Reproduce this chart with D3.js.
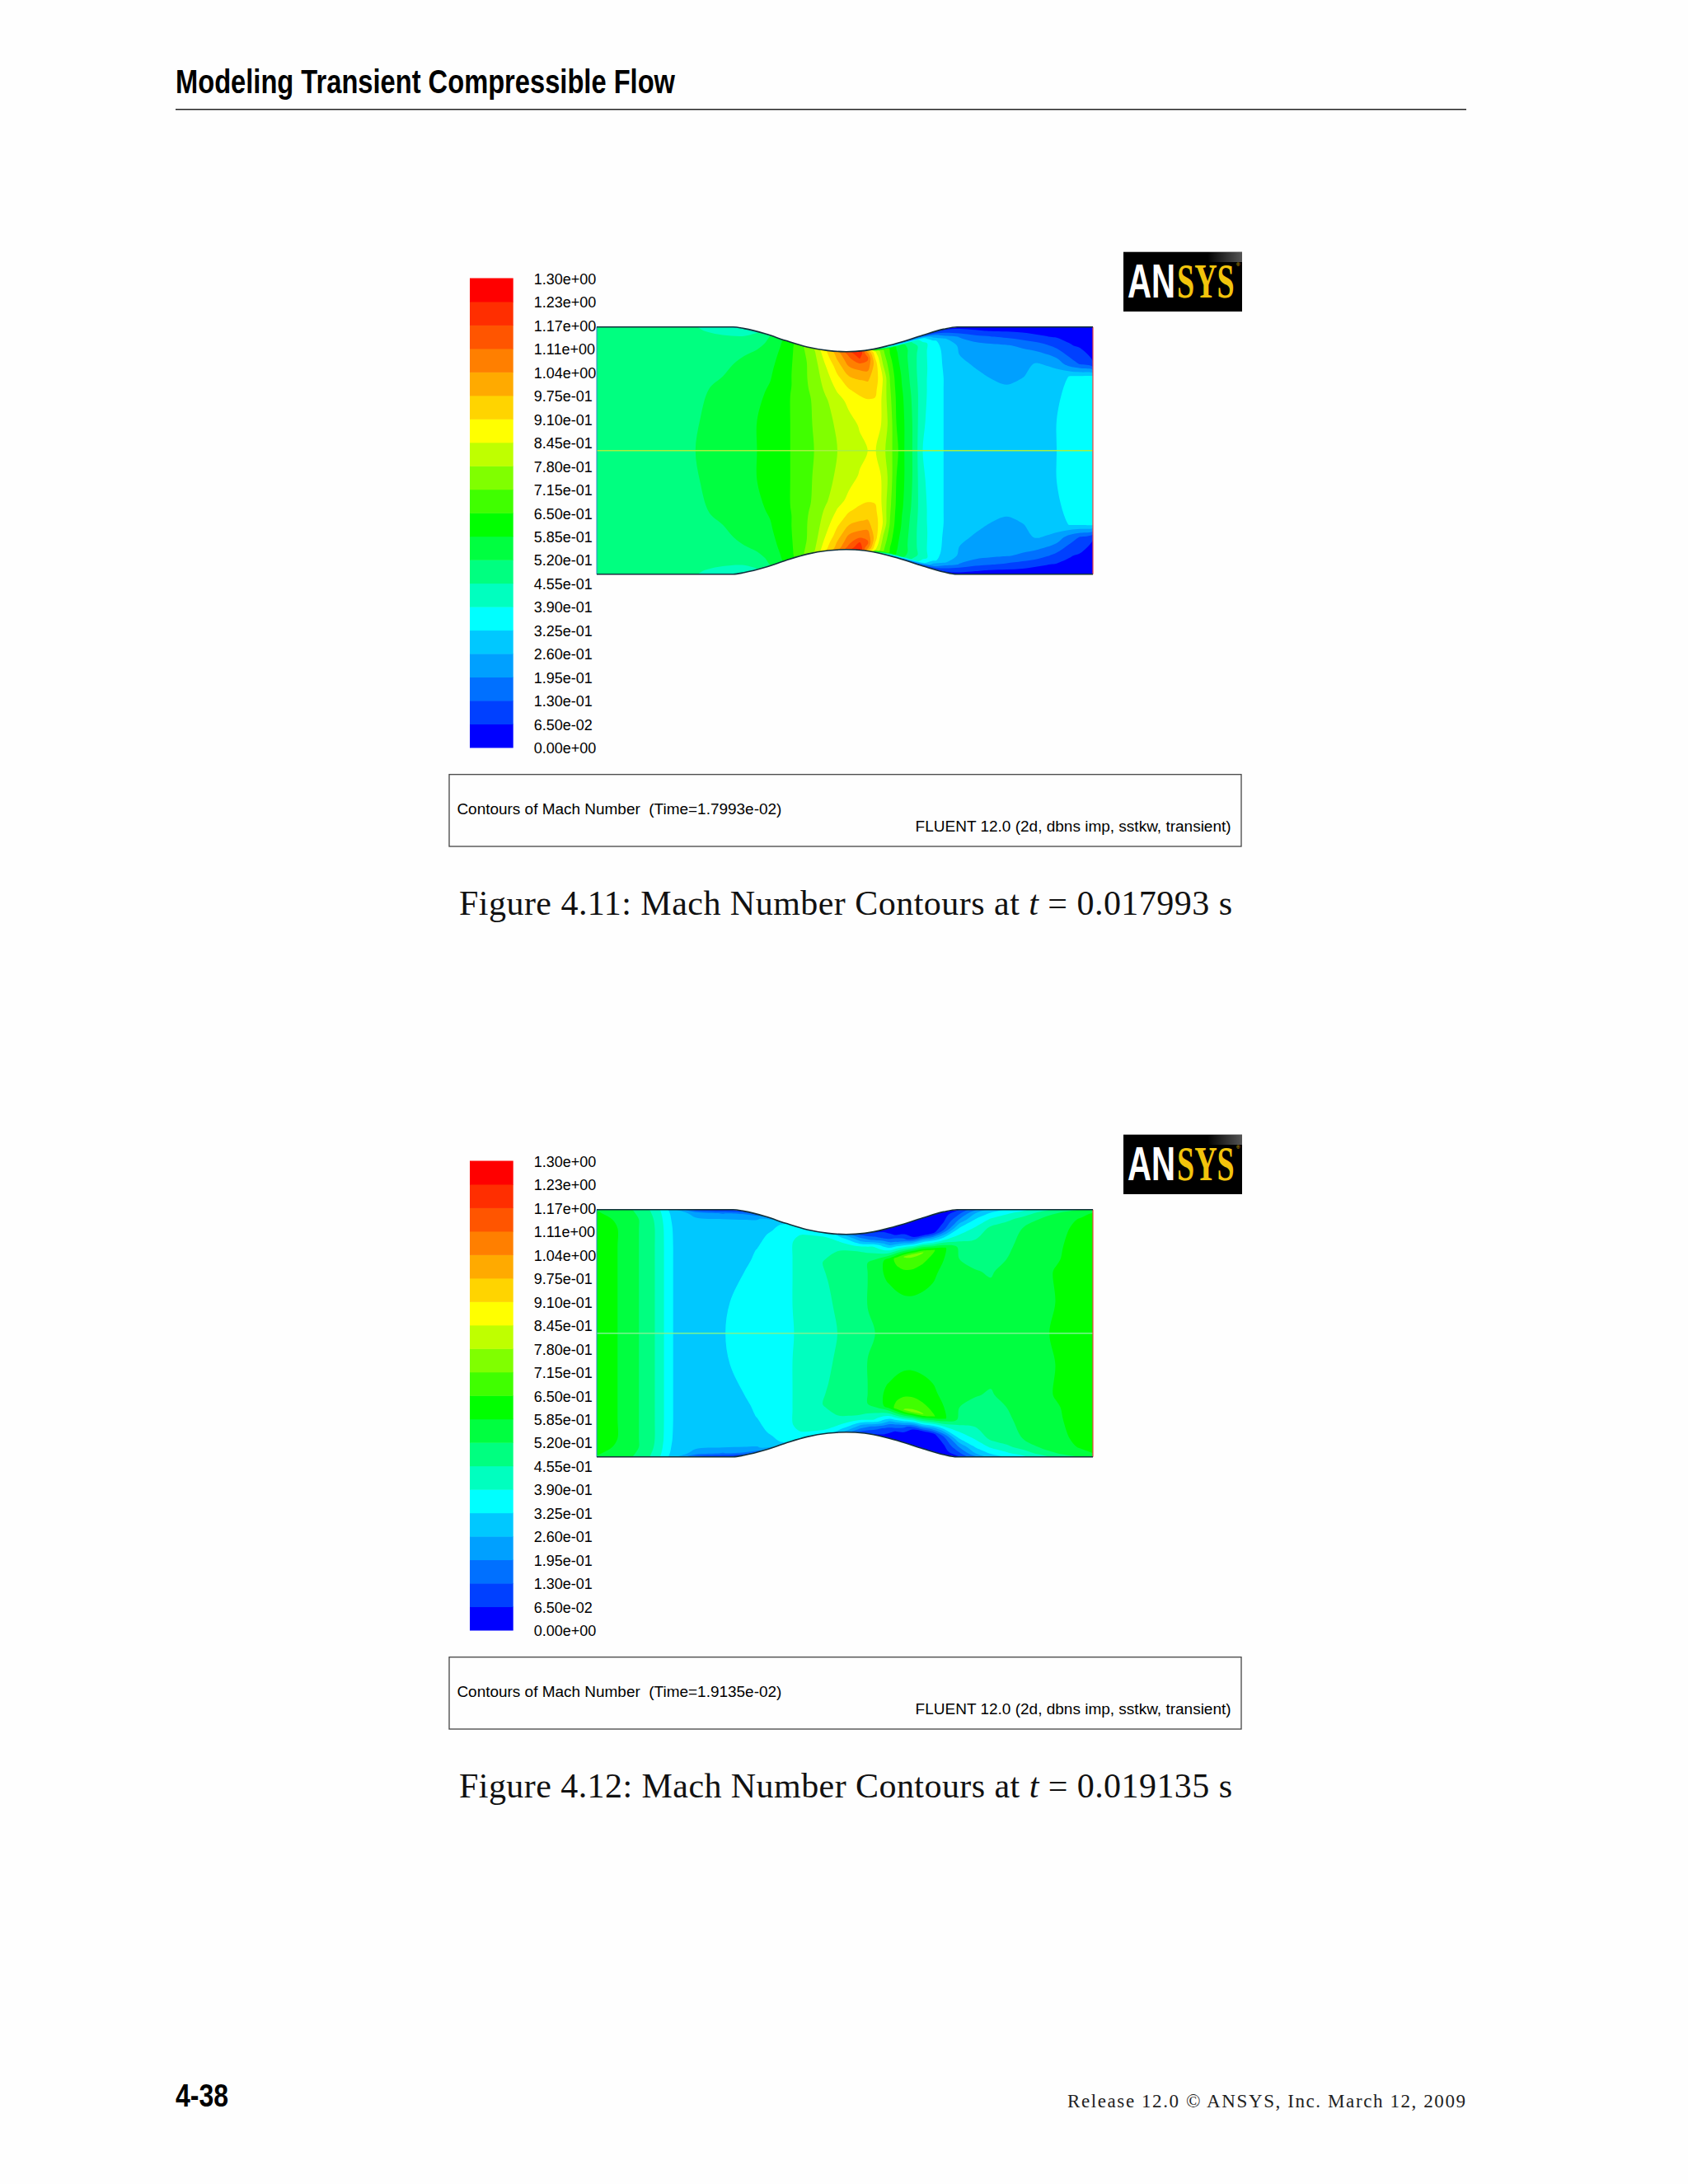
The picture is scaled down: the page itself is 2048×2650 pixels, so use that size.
<!DOCTYPE html>
<html>
<head>
<meta charset="utf-8">
<script src="https://cdn.jsdelivr.net/npm/d3@7"></script>
<style>
body { margin: 0; background: #fefefe; }
text { white-space: pre; }
</style>
</head>
<body>
<div id="page"></div>
<script>
// legend
const tickValues = [0, .065, .13, .195, .26, .325, .39, .455, .52, .585, .65, .715, .78, .845, .91, .975, 1.04, 1.105, 1.17, 1.235, 1.3];
const tickLabels = ["0.00e+00", "6.50e-02", "1.30e-01", "1.95e-01", "2.60e-01", "3.25e-01", "3.90e-01", "4.55e-01", "5.20e-01", "5.85e-01", "6.50e-01", "7.15e-01", "7.80e-01", "8.45e-01", "9.10e-01", "9.75e-01", "1.04e+00", "1.11e+00", "1.17e+00", "1.23e+00", "1.30e+00"];
const bandColors = ["#0000ff", "#0040ff", "#0070ff", "#00a0ff", "#00c8ff", "#00ffff", "#00ffbf", "#00ff80", "#00ff40", "#00ff00", "#40ff00", "#80ff00", "#bfff00", "#ffff00", "#ffd400", "#ffaa00", "#ff7f00", "#ff5500", "#ff2e00", "#ff0000"];

// duct wall, station in % of length, half height relative to the inlet
const wallStations = [0, 27.5, 29.7, 34, 38.1, 42.4, 46.6, 50.3, 54, 58.3, 61.4, 65.7, 69.9, 72.6, 100];
const wallHeights = [1, 1, .987, .944, .889, .838, .809, .8, .809, .844, .878, .933, .982, 1, 1];

// where the mach numbers were read
const gridStations = [0, 4.2, 8.5, 11.7, 15.4, 19.9, 25.4, 29.7, 32.3, 35.5, 39, 41.3, 43.8, 46.1, 48.5, 50.8, 53, 54.6, 56.1, 57.7, 59.1, 60.4, 62, 63.6, 65.7, 67.8, 69.9, 73.1, 76.3, 79.4, 82.6, 85.8, 89, 92.7, 95.3, 97.5, 100];
const gridWallDist = [0, .03, .08, .15, .3, .4, .5, .75, 1];

// t = 0.017993 s, one row per wall distance, wall to centreline
const machA = [
  [.47,.47,.47,.47,.47,.46,.39,.40,.45,.53,.62,.70,.78,.90,1.02,1.15,1.25,.95,.50,.30,.20,.15,.12,.10,.08,.06,.05,.05,.045,.04,.04,.035,.03,.03,.025,.02,.02],
  [.48,.48,.48,.48,.48,.47,.42,.43,.47,.54,.63,.70,.77,.89,1.0,1.12,1.22,1.05,.85,.72,.64,.58,.52,.45,.35,.22,.13,.08,.07,.06,.055,.05,.045,.05,.04,.03,.02],
  [.48,.48,.48,.48,.48,.48,.47,.47,.49,.55,.635,.695,.76,.87,.98,1.08,1.17,1.12,.90,.74,.65,.59,.54,.49,.42,.35,.27,.19,.15,.135,.12,.10,.075,.06,.05,.04,.03],
  [.48,.48,.48,.48,.485,.49,.50,.51,.52,.565,.64,.69,.75,.845,.94,1.04,1.07,1.08,.95,.77,.67,.60,.54,.49,.41,.36,.31,.25,.225,.21,.20,.185,.16,.11,.07,.055,.04],
  [.48,.48,.485,.49,.50,.505,.51,.53,.55,.585,.645,.69,.745,.805,.885,.94,.97,.98,.95,.84,.71,.62,.56,.49,.41,.365,.32,.27,.255,.25,.245,.25,.265,.235,.165,.125,.07],
  [.48,.48,.485,.49,.50,.505,.52,.54,.56,.59,.645,.69,.735,.79,.85,.90,.93,.945,.93,.835,.72,.63,.565,.50,.41,.36,.325,.285,.27,.257,.25,.258,.275,.30,.327,.33,.33],
  [.48,.485,.49,.495,.50,.51,.53,.555,.57,.60,.65,.685,.725,.77,.82,.86,.89,.905,.905,.83,.73,.64,.575,.51,.41,.36,.325,.305,.29,.275,.265,.275,.29,.315,.335,.335,.335],
  [.49,.49,.49,.49,.50,.515,.545,.57,.585,.62,.65,.685,.72,.755,.79,.82,.85,.87,.875,.835,.75,.65,.585,.52,.40,.36,.325,.30,.285,.28,.275,.28,.30,.325,.335,.335,.335],
  [.49,.49,.49,.49,.50,.52,.55,.575,.585,.62,.65,.685,.715,.75,.78,.81,.83,.845,.85,.80,.74,.67,.585,.52,.39,.36,.325,.30,.29,.29,.29,.29,.30,.325,.33,.335,.335]
];

// t = 0.019135 s
const machB = [
  [.58,.56,.50,.43,.28,.10,.06,.09,.16,.25,.33,.36,.36,.35,.30,.20,.10,.07,.05,.04,.03,.025,.02,.02,.015,.015,.02,.06,.18,.28,.33,.37,.42,.47,.50,.52,.55],
  [.59,.57,.51,.44,.30,.24,.19,.22,.25,.30,.36,.38,.38,.38,.34,.27,.17,.12,.09,.07,.05,.04,.03,.025,.02,.02,.04,.12,.26,.335,.38,.42,.47,.52,.55,.57,.585],
  [.60,.58,.52,.45,.31,.27,.265,.27,.28,.32,.375,.395,.41,.42,.40,.36,.27,.22,.17,.12,.08,.06,.04,.035,.03,.03,.06,.20,.33,.40,.44,.48,.52,.545,.575,.59,.60],
  [.60,.585,.52,.455,.32,.275,.275,.29,.30,.34,.385,.405,.42,.44,.45,.45,.44,.42,.38,.30,.22,.20,.15,.07,.06,.05,.13,.33,.40,.47,.495,.52,.54,.56,.585,.60,.61],
  [.60,.585,.52,.455,.325,.28,.29,.305,.327,.36,.385,.41,.44,.46,.48,.495,.51,.52,.545,.58,.62,.67,.72,.73,.72,.66,.60,.505,.49,.49,.51,.535,.555,.575,.595,.61,.62],
  [.60,.585,.52,.455,.325,.285,.295,.315,.335,.362,.385,.41,.44,.455,.475,.49,.505,.52,.55,.585,.61,.64,.66,.665,.65,.62,.585,.52,.505,.50,.52,.54,.56,.58,.597,.61,.62],
  [.60,.585,.52,.455,.325,.29,.30,.325,.345,.365,.385,.41,.44,.45,.47,.49,.505,.52,.55,.58,.59,.60,.61,.615,.61,.595,.57,.54,.523,.515,.535,.55,.565,.59,.60,.61,.62],
  [.60,.585,.52,.455,.325,.30,.315,.345,.355,.37,.385,.41,.435,.445,.46,.485,.505,.52,.535,.55,.56,.565,.57,.57,.565,.56,.55,.545,.54,.54,.54,.55,.56,.587,.60,.61,.62],
  [.60,.585,.52,.455,.325,.30,.32,.36,.365,.37,.385,.40,.43,.445,.455,.47,.49,.51,.52,.53,.54,.55,.55,.55,.55,.55,.55,.55,.55,.55,.55,.55,.57,.595,.60,.61,.62]
];

const figures = [
  { mach: machA, time: "1.7993e-02", caption: ["Figure 4.11: Mach Number Contours at ", "t", " = 0.017993 s"], centreColor: "#a8f040" },
  { mach: machB, time: "1.9135e-02", caption: ["Figure 4.12: Mach Number Contours at ", "t", " = 0.019135 s"], centreColor: "#78f490" }
];

const sans = "'Liberation Sans', Arial, sans-serif";
const narrow = "'Liberation Sans Narrow', 'Liberation Sans', sans-serif";
const serif = "'Liberation Serif', serif";
const figureStep = 1071;

const svg = d3.select("#page").append("svg")
  .attr("width", 2048)
  .attr("height", 2650)
  .style("display", "block")
  .style("background", "#fefefe");

// page header
svg.append("text")
  .attr("x", 213).attr("y", 113)
  .attr("font-family", narrow).attr("font-weight", "bold").attr("font-size", 40)
  .attr("textLength", 606).attr("lengthAdjust", "spacingAndGlyphs")
  .attr("fill", "#000")
  .text("Modeling Transient Compressible Flow");
svg.append("line")
  .attr("x1", 213).attr("x2", 1779)
  .attr("y1", 132.7).attr("y2", 132.7)
  .attr("stroke", "#222").attr("stroke-width", 1.6);

// page footer
svg.append("text")
  .attr("x", 213).attr("y", 2556)
  .attr("font-family", narrow).attr("font-weight", "bold").attr("font-size", 39)
  .attr("textLength", 64).attr("lengthAdjust", "spacingAndGlyphs")
  .text("4-38");
svg.append("text")
  .attr("x", 1295).attr("y", 2557)
  .attr("font-family", serif).attr("font-size", 23)
  .attr("textLength", 483).attr("lengthAdjust", "spacing")
  .attr("fill", "#222")
  .text("Release 12.0 © ANSYS, Inc. March 12, 2009");

const defs = svg.append("defs");
const sheen = defs.append("linearGradient").attr("id", "logoSheen");
sheen.append("stop").attr("offset", 0).attr("stop-color", "#000");
sheen.append("stop").attr("offset", 1).attr("stop-color", "#555");

// x and y of the duct, shared by both figures
const x = d3.scaleLinear().domain([0, 100]).range([724, 1326]);
const y = d3.scaleLinear().domain([-1, 1]).range([696.7, 396.7]);
const wallHeight = d3.scaleLinear().domain(wallStations).range(wallHeights);
const legendY = d3.scaleLinear().domain([0, 1.3]).range([907, 337.5]);

defs.append("clipPath").attr("id", "ductClip")
  .append("path")
  .datum(wallStations)
  .attr("d", d3.area()
    .x(d => x(d))
    .y0(d => y(-wallHeight(d)))
    .y1(d => y(wallHeight(d)))
    .curve(d3.curveMonotoneX));

const signedDist = gridWallDist.map(d => 1 - d).concat(gridWallDist.slice(0, -1).reverse().map(d => d - 1));
const nx = gridStations.length, ny = signedDist.length;
// d3.contours puts grid values on cell centres
const colToStation = d3.scaleLinear().domain(d3.range(nx).map(i => i + .5)).range(gridStations).clamp(true);
const rowToDist = d3.scaleLinear().domain(d3.range(ny).map(i => i + .5)).range(signedDist).clamp(true);

const smoothRing = d3.line().curve(d3.curveCatmullRomClosed.alpha(.5));

function contourPath(geom) {
  let out = "";
  geom.coordinates.forEach(polygon => {
    polygon.forEach(ring => {
      const pts = [];
      ring.slice(0, -1).forEach(([c, r]) => {
        const u = colToStation(c);
        const p = [x(u), y(rowToDist(r) * wallHeight(u))];
        const last = pts[pts.length - 1];
        if (!last || Math.abs(last[0] - p[0]) > .01 || Math.abs(last[1] - p[1]) > .01) pts.push(p);
      });
      if (pts.length > 2) out += smoothRing(pts);
    });
  });
  return out;
}

figures.forEach((fig, i) => {
  const g = svg.append("g").attr("transform", "translate(0," + (i * figureStep) + ")");

  // legend bar
  g.append("g").selectAll("rect")
    .data(bandColors)
    .enter().append("rect")
    .attr("x", 570)
    .attr("width", 52.7)
    .attr("y", (d, k) => legendY(tickValues[k + 1]))
    .attr("height", (d, k) => legendY(tickValues[k]) - legendY(tickValues[k + 1]) + .5)
    .attr("fill", d => d);

  const axis = g.append("g")
    .attr("transform", "translate(622.7,1)")
    .call(d3.axisRight(legendY).tickValues(tickValues).tickFormat((d, k) => tickLabels[k]).tickSize(0).tickPadding(25));
  axis.select(".domain").remove();
  axis.selectAll("text")
    .attr("font-family", sans).attr("font-size", 18).attr("fill", "#000");

  // filled contours, mirrored about the centreline
  const rows = fig.mach.concat(fig.mach.slice(0, -1).reverse());
  const bands = d3.contours()
    .size([nx, ny])
    .thresholds(tickValues.slice(0, -1))(rows.flat());

  g.append("g")
    .attr("clip-path", "url(#ductClip)")
    .selectAll("path")
    .data(bands)
    .enter().append("path")
    .attr("d", contourPath)
    .attr("fill", (d, k) => bandColors[k]);

  // centreline, end lines and walls
  g.append("line")
    .attr("x1", x(0)).attr("x2", x(100))
    .attr("y1", y(0)).attr("y2", y(0))
    .attr("stroke", fig.centreColor).attr("stroke-width", 1.4);
  g.append("line")
    .attr("x1", x(0)).attr("x2", x(0))
    .attr("y1", y(1)).attr("y2", y(-1))
    .attr("stroke", "#2a86c8").attr("stroke-width", 1);
  g.append("line")
    .attr("x1", x(100)).attr("x2", x(100))
    .attr("y1", y(1)).attr("y2", y(-1))
    .attr("stroke", "#f04040").attr("stroke-width", 1.2);

  [1, -1].forEach(side => {
    g.append("path")
      .datum(wallStations)
      .attr("d", d3.line().x(d => x(d)).y(d => y(side * wallHeight(d))).curve(d3.curveMonotoneX))
      .attr("fill", "none")
      .attr("stroke", "#12303a").attr("stroke-width", 1.6);
  });

  // logo, letters stretched tall by a transform
  const logo = g.append("g");
  logo.append("rect").attr("x", 1363).attr("y", 305.7).attr("width", 144).attr("height", 72.3).attr("fill", "#000");
  logo.append("rect").attr("x", 1465).attr("y", 306).attr("width", 42).attr("height", 12).attr("fill", "url(#logoSheen)");
  logo.append("text")
    .attr("transform", "translate(1368,361) scale(1,1.72)")
    .attr("font-family", narrow).attr("font-weight", "bold").attr("font-size", 33)
    .attr("textLength", 58).attr("lengthAdjust", "spacingAndGlyphs")
    .attr("fill", "#fff").text("AN");
  logo.append("text")
    .attr("transform", "translate(1428,361) scale(.95,1.5)")
    .attr("font-family", serif).attr("font-weight", "bold").attr("font-size", 40)
    .attr("fill", "#f2c40c").text("SYS");
  logo.append("text")
    .attr("x", 1500).attr("y", 323)
    .attr("font-family", sans).attr("font-size", 6)
    .attr("fill", "#f2c40c").text("®");

  // info box
  g.append("rect")
    .attr("x", 545).attr("y", 939.7).attr("width", 961).attr("height", 87.3)
    .attr("fill", "none").attr("stroke", "#444").attr("stroke-width", 1.3);
  g.append("text")
    .attr("x", 554.4).attr("y", 988)
    .attr("font-family", sans).attr("font-size", 18)
    .attr("textLength", 394).attr("lengthAdjust", "spacingAndGlyphs")
    .text("Contours of Mach Number  (Time=" + fig.time + ")");
  g.append("text")
    .attr("x", 1110.6).attr("y", 1009)
    .attr("font-family", sans).attr("font-size", 18)
    .attr("textLength", 383).attr("lengthAdjust", "spacingAndGlyphs")
    .text("FLUENT 12.0 (2d, dbns imp, sstkw, transient)");

  // caption
  const cap = g.append("text")
    .attr("x", 557).attr("y", 1110)
    .attr("font-family", serif).attr("font-size", 42)
    .attr("textLength", 938).attr("lengthAdjust", "spacing")
    .attr("fill", "#111");
  cap.append("tspan").text(fig.caption[0]);
  cap.append("tspan").attr("font-style", "italic").text(fig.caption[1]);
  cap.append("tspan").text(fig.caption[2]);
});
</script>
</body>
</html>
